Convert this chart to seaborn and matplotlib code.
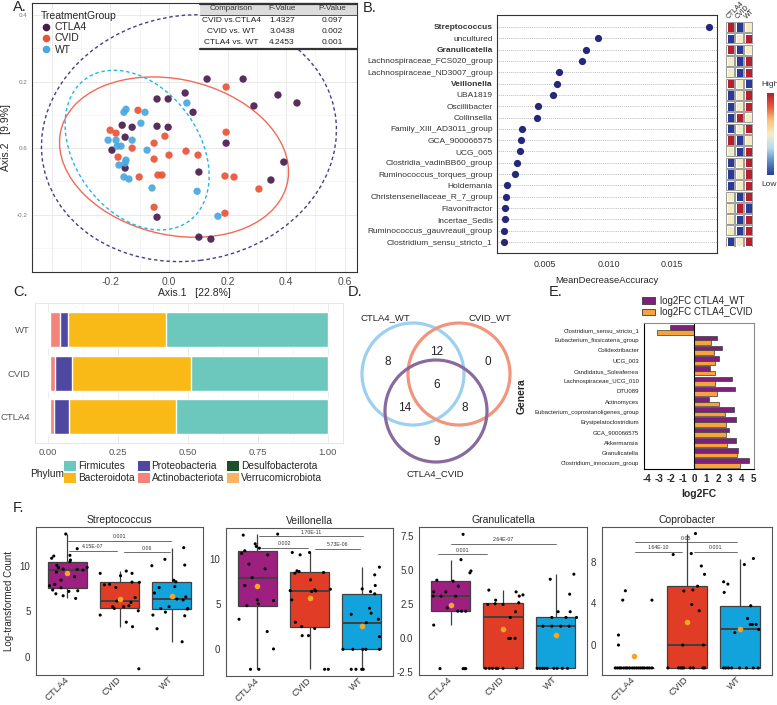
import numpy as np
import pandas as pd
import matplotlib
matplotlib.use("Agg")
import matplotlib.pyplot as plt
from matplotlib.patches import Ellipse, Circle, Rectangle, Patch
from matplotlib.lines import Line2D
from matplotlib.colors import LinearSegmentedColormap
import seaborn as sns

sns.set_style("white")
plt.rcParams["font.family"] = ["Liberation Sans", "DejaVu Sans"]

# ---------------- A. PCoA ----------------
groups = ["CTLA4", "CVID", "WT"]
group_colors = {"CTLA4": "#4A1C4E", "CVID": "#EA5338", "WT": "#4BA7DF"}

ctla4_ax1 = [0.130, 0.253, 0.055, -0.041, -0.003, 0.372, 0.437, 0.290, 0.082, -0.160, -0.126, -0.041,
             -0.003, -0.150, 0.195, -0.195, -0.150, 0.392, 0.102, 0.348, -0.041, 0.102, 0.143]
ctla4_ax2 = [0.208, 0.208, 0.166, 0.148, 0.148, 0.160, 0.136, 0.127, 0.108, 0.069, 0.063, 0.066,
             0.063, 0.033, 0.015, -0.006, -0.060, -0.042, -0.072, -0.096, -0.208, -0.268, -0.274]
cvid_ax1 = [0.195, -0.106, -0.201, -0.181, -0.014, 0.195, -0.051, -0.126, -0.174, 0.000, 0.058,
            0.099, -0.051, -0.038, -0.024, -0.102, 0.191, 0.222, 0.307, -0.051, 0.191]
cvid_ax2 = [0.184, 0.114, 0.054, 0.045, 0.036, 0.048, 0.015, 0.000, -0.027, -0.021, -0.009,
            -0.021, -0.033, -0.081, -0.081, -0.087, -0.084, -0.087, -0.123, -0.178, -0.196]
wt_ax1 = [-0.147, -0.154, -0.082, 0.061, -0.096, -0.208, -0.181, -0.126, -0.164, -0.177, -0.075,
          -0.147, -0.171, -0.150, -0.154, -0.137, -0.058, 0.096, 0.167]
wt_ax2 = [0.117, 0.108, 0.108, 0.136, 0.075, 0.024, 0.024, 0.024, 0.006, 0.006, -0.006,
          -0.036, -0.051, -0.045, -0.087, -0.093, -0.120, -0.130, -0.205]

# 95% ellipses (centre, width, height, angle) in axis units
ell_cx = [0.068, 0.017, -0.109]
ell_cy = [0.030, -0.027, -0.006]
ell_w = [1.01, 0.79, 0.56]
ell_h = [0.74, 0.47, 0.40]
ell_angle = [6, -10, -43]

perm_comparison = ["CVID vs.CTLA4", "CVID vs. WT", "CTLA4 vs. WT"]
perm_f = ["1.4327", "3.0438", "4.2453"]
perm_p = ["0.097", "0.002", "0.001"]

# ---------------- B. random forest ----------------
rf_genus = ["Streptococcus", "uncultured", "Granulicatella", "Lachnospiraceae_FCS020_group",
            "Lachnospiraceae_ND3007_group", "Veillonella", "UBA1819", "Oscillibacter", "Collinsella",
            "Family_XIII_AD3011_group", "GCA_900066575", "UCG_005", "Clostridia_vadinBB60_group",
            "Ruminococcus_torques_group", "Holdemania", "Christensenellaceae_R_7_group", "Flavonifractor",
            "Incertae_Sedis", "Ruminococcus_gauvreauii_group", "Clostridium_sensu_stricto_1"]
rf_mda = [0.0179, 0.00915, 0.0082, 0.00789, 0.0061, 0.00594, 0.00565, 0.00445, 0.0044, 0.00321,
          0.00313, 0.00303, 0.00277, 0.00266, 0.0020, 0.0019, 0.00187, 0.00183, 0.0018, 0.0018]
rf_bold = ["Streptococcus", "Granulicatella", "Veillonella"]
rf_ctla4 = [1, -1, 1, 0, 0, 1, -1, -1, -1, -1, 1, 0, -1, -1, -1, 0, 0, 0, 0, -1]
rf_cvid = [-1, 0, -1, -1, -1, 0, 0, 0, 1, 0, -1, -1, 0, 0, 0, -1, 1, -1, -1, 0]
rf_wt = [0, 1, 0, 1, 1, -1, 1, 1, 0, 1, 0, 1, 1, 1, 1, 1, -1, 1, 1, 1]

# ---------------- C. phylum composition ----------------
groups_c = ["WT", "CVID", "CTLA4"]
phyla = ["Firmicutes", "Bacteroidota", "Proteobacteria", "Actinobacteriota",
         "Desulfobacterota", "Verrucomicrobiota"]
phylum_colors = ["#6CC7BD", "#F9B917", "#4E48A0", "#F4837A", "#1E4D2B", "#FDB462"]
firmicutes = [0.577, 0.490, 0.543]
bacteroidota = [0.351, 0.425, 0.382]
proteobacteria = [0.028, 0.060, 0.052]
actinobacteriota = [0.038, 0.019, 0.017]
desulfobacterota = [0.002, 0.002, 0.002]
verrucomicrobiota = [0.004, 0.004, 0.004]

# ---------------- D. Venn ----------------
venn_sets = ["CTLA4_WT", "CVID_WT", "CTLA4_CVID"]
venn_counts = {"100": 8, "110": 12, "010": 0, "111": 6, "101": 14, "011": 8, "001": 9}

# ---------------- E. log2FC ----------------
fc_genus = ["Clostridium_sensu_stricto_1", "Eubacterium_fissicatena_group", "Colidextribacter", "UCG_003",
            "Candidatus_Soleaferrea", "Lachnospiraceae_UCG_010", "DTU089", "Actinomyces",
            "Eubacterium_coprostanoligenes_group", "Erysipelatoclostridium", "GCA_900066575",
            "Akkermansia", "Granulicatella", "Clostridium_innocuum_group"]
fc_ctla4_wt = [-2.03, 1.92, 2.33, 2.08, 1.37, 3.15, 3.42, 1.26, 3.32, 3.56, 2.90, 3.56, 3.67, 4.66]
fc_ctla4_cvid = [-3.12, 1.42, 1.70, 1.75, 1.75, 1.75, 1.89, 2.08, 2.58, 2.68, 2.68, 2.79, 3.64, 3.89]

# ---------------- F. boxplots ----------------
groups_f = ["CTLA4", "CVID", "WT"]
box_colors = {"CTLA4": "#9D1F80", "CVID": "#E13D26", "WT": "#13A3DC"}

strep_vals = {
    "CTLA4": [6.41, 6.7, 6.92, 7.18, 7.25, 7.33, 7.58, 7.8, 7.95, 8.42, 8.79, 9.3, 9.52, 9.6, 9.63, 9.78,
              9.82, 10.04, 10.44, 10.62, 10.82, 11.06, 11.14, 11.87, 13.48],
    "CVID": [-1.32, 3.3, 3.8, 4.58, 5.05, 5.31, 5.5, 5.5, 5.6, 5.98, 6.12, 6.5, 7.6, 7.9, 7.96, 8.17, 8.2,
             8.9, 9.16, 9.16, 9.41],
    "WT": [1.65, 3.08, 4.5, 4.58, 4.9, 5.24, 5.3, 5.3, 5.5, 6.24, 6.34, 6.57, 7.0, 7.6, 7.7, 8.24, 8.4,
           10.0, 10.07, 10.7, 11.98]}
strep_dx = {
    "CTLA4": [0.16, -0.08, -0.22, 0.03, 0.2, -0.28, -0.12, -0.34, -0.24, -0.12, 0.14, -0.21, 0.3, 0.19,
              -0.08, -0.17, 0.38, -0.2, 0.05, 0.06, -0.3, -0.26, 0.05, 0.19, -0.03],
    "CVID": [0.37, 0.25, 0.13, -0.37, 0.36, -0.1, -0.13, 0.08, 0.18, 0.22, -0.05, 0.3, -0.07, -0.29,
             -0.19, 0.38, 0.24, 0.02, -0.37, 0.24, 0.13],
    "WT": [0.2, -0.28, 0.25, -0.36, -0.12, 0.3, 0.31, -0.21, -0.05, 0.22, 0.1, 0.27, -0.33, -0.24, 0.06,
           0.08, 0.04, -0.38, 0.25, -0.13, 0.23]}
strep_brackets = [(0.01, 1.99, 12.71, "0.001"), (0.04, 0.95, 11.61, "4.15E-07"), (1.08, 1.96, 11.47, "0.06")]

veil_vals = {
    "CTLA4": [-2.21, -2.21, 0.04, 1.96, 3.32, 4.83, 5.02, 5.39, 5.46, 7.05, 7.93, 8.89, 9.41, 10.44, 10.6,
              10.89, 11.18, 11.37, 11.66, 12.62, 12.73],
    "CVID": [-2.21, -2.21, 1.51, 1.51, 2.3, 2.51, 2.99, 5.46, 6.38, 6.45, 6.49, 6.57, 6.64, 7.68, 8.41,
             8.49, 8.6, 8.67, 10.44, 10.7, 10.7],
    "WT": [-2.21, -2.21, -2.21, -2.21, 0.0, 0.0, 0.0, 0.0, 0.0, 1.4, 2.95, 3.32, 3.87, 3.99, 4.54, 6.13,
           6.38, 6.68, 7.05, 8.23, 9.08]}
veil_dx = {
    "CTLA4": [-0.13, 0.03, 0.31, 0.19, -0.35, -0.2, 0.02, 0.31, 0.0, -0.24, -0.1, 0.15, -0.16, 0.2, -0.3,
              -0.24, 0.04, -0.02, -0.04, -0.27, 0.39],
    "CVID": [0.29, 0.36, -0.14, -0.02, 0.1, -0.15, -0.27, -0.34, 0.04, 0.12, -0.37, 0.1, 0.4, 0.02, -0.28,
             0.27, -0.2, -0.24, -0.18, -0.33, 0.0],
    "WT": [-0.2, -0.11, 0.0, 0.03, -0.36, -0.17, 0.02, 0.08, 0.34, 0.34, 0.09, 0.32, -0.2, 0.18, 0.15, 0.25,
           0.17, 0.01, 0.26, 0.25, 0.34]}
veil_brackets = [(0.04, 2.02, 12.47, "1.70E-11"), (0.08, 0.97, 11.18, "0.002"), (1.1, 1.97, 11.07, "5.73E-06")]

granu_vals = {
    "CTLA4": [-2.22, -2.22, -2.22, -2.22, 0.98, 2.0, 2.0, 2.0, 2.25, 3.11, 3.11, 3.11, 3.42, 3.42, 3.84,
              4.21, 4.28, 4.82, 4.96, 5.79, 7.65],
    "CVID": [-2.2, -2.2, -2.2, -2.2, -2.2, -2.2, -2.2, 0.0, 0.0, 0.0, 1.54, 1.96, 2.49, 2.49, 2.55, 2.62,
             2.81, 3.11, 3.2, 3.42, 3.55],
    "WT": [-2.2, -2.2, -2.2, -2.2, -2.2, -2.2, -2.2, -2.2, -2.2, 0.9, 0.9, 0.9, 0.9, 1.54, 1.54, 1.54,
           1.96, 1.96, 3.25, 4.35, 4.72]}
granu_dx = {
    "CTLA4": [-0.2, 0.24, 0.27, 0.29, -0.32, 0.14, 0.21, 0.29, -0.06, -0.18, 0.1, -0.33, -0.32, -0.09,
              0.15, 0.05, -0.26, 0.37, 0.39, 0.2, 0.24],
    "CVID": [-0.33, -0.26, -0.2, -0.13, -0.1, 0.0, 0.26, 0.11, 0.14, 0.23, 0.14, 0.24, -0.29, 0.0, -0.15,
             0.3, -0.14, 0.31, 0.38, 0.25, -0.27],
    "WT": [-0.35, -0.3, -0.25, -0.21, -0.16, -0.03, 0.03, 0.13, 0.23, -0.24, -0.07, 0.1, 0.26, -0.07, 0.4,
           0.2, 0.05, 0.28, 0.27, -0.1, 0.35]}
granu_brackets = [(0.0, 2.0, 6.97, "2.64E-07"), (-0.24, 0.69, 6.19, "0.001")]

copro_vals = {
    "CTLA4": [-2.2, -2.2, -2.2, -2.2, -2.2, -2.2, -2.2, -2.2, -2.2, -2.2, -2.2, -2.2, -2.2, -2.2, -2.2,
              -2.2, -2.2, -2.2, 0.0, 0.96, 4.32, 4.32, 5.22],
    "CVID": [-2.2, -2.2, -2.2, -2.2, -2.2, -2.2, -2.2, -2.2, -2.2, 0.0, 0.0, 3.3, 3.9, 5.2, 5.3, 5.66, 6.8,
             7.6, 8.7, 8.8, 10.72],
    "WT": [-2.2, -2.2, -2.2, -2.2, -2.2, -2.2, -2.2, -2.2, 1.2, 1.5, 1.5, 1.98, 1.98, 1.98, 2.56, 3.78,
           5.06, 5.86, 6.08, 7.74, 8.32]}
copro_dx = {
    "CTLA4": [-0.35, -0.31, -0.27, -0.24, -0.19, -0.15, -0.12, -0.08, -0.03, 0.01, 0.05, 0.09, 0.13, 0.17,
              0.2, 0.25, 0.29, 0.34, -0.29, -0.29, -0.21, 0.34, -0.16],
    "CVID": [-0.36, -0.16, -0.12, -0.09, -0.06, 0.06, 0.12, 0.3, 0.33, -0.08, 0.31, 0.23, 0.09, -0.06, 0.11,
             0.2, 0.33, 0.27, -0.26, 0.08, 0.16],
    "WT": [-0.31, -0.27, -0.22, -0.16, -0.01, 0.12, 0.25, 0.34, -0.1, 0.35, -0.01, 0.19, 0.23, 0.3, 0.14,
           0.2, -0.3, -0.23, -0.31, 0.08, 0.25]}
copro_brackets = [(0.02, 1.95, 9.86, "0.05"), (0.02, 0.91, 8.96, "1.64E-10"), (1.13, 1.95, 8.96, "0.001")]

# ---------------- figure ----------------
fig = plt.figure(figsize=(7.77, 7.05), dpi=100)
TXT = "#4D4D4D"


def px_axes(x0, y0, x1, y1):
    return fig.add_axes([x0 / 777, 1 - y1 / 705, (x1 - x0) / 777, (y1 - y0) / 705])


def px_text(x, y, s, **kw):
    fig.text(x / 777, 1 - y / 705, s, **kw)


# panel letters
for lab, x, y in [("A.", 13, 7), ("B.", 363, 8), ("C.", 13, 292), ("D.", 348, 292), ("E.", 549, 292),
                  ("F.", 13, 508)]:
    px_text(x, y, lab, fontsize=10.5, va="center", ha="left")

# ---- A ----
axA = px_axes(32, 3, 357, 272)
pcoa = pd.concat([
    pd.DataFrame({"Axis.1": ctla4_ax1, "Axis.2": ctla4_ax2, "TreatmentGroup": "CTLA4"}),
    pd.DataFrame({"Axis.1": cvid_ax1, "Axis.2": cvid_ax2, "TreatmentGroup": "CVID"}),
    pd.DataFrame({"Axis.1": wt_ax1, "Axis.2": wt_ax2, "TreatmentGroup": "WT"}),
])
sns.scatterplot(data=pcoa, x="Axis.1", y="Axis.2", hue="TreatmentGroup", hue_order=groups,
                palette=group_colors, s=28, edgecolor="none", alpha=0.92, legend=False, ax=axA, zorder=3)
ell_colors = {"CTLA4": "#4E3A86", "CVID": "#F26A57", "WT": "#22B5EA"}
ell_styles = {"CTLA4": (0, (2.5, 2)), "CVID": "-", "WT": (0, (2.5, 2))}
for g, cx, cy, w, h, a in zip(groups, ell_cx, ell_cy, ell_w, ell_h, ell_angle):
    axA.add_patch(Ellipse((cx, cy), w, h, angle=a, fill=False, ec=ell_colors[g], lw=1.0,
                          ls=ell_styles[g], zorder=2))
axA.set_xlim(-0.468, 0.642)
axA.set_ylim(-0.373, 0.437)
axA.set_xticks([-0.4, -0.2, 0.0, 0.2, 0.4, 0.6])
axA.set_xticklabels(["", "-0.2", "0.0", "0.2", "0.4", "0.6"], fontsize=7.5, color=TXT)
axA.set_yticks([-0.2, 0.0, 0.2, 0.4])
axA.set_yticklabels(["-0.2", "0.6", "0.2", "0.4"], fontsize=4.5, color="#777777")
axA.set_xticks([-0.3, -0.1, 0.1, 0.3, 0.5], minor=True)
axA.set_yticks([-0.3, -0.1, 0.1, 0.3], minor=True)
axA.grid(which="major", color="#E6E6E6", lw=0.6)
axA.grid(which="minor", color="#F0F0F0", lw=0.4)
axA.tick_params(which="major", length=2, width=0.6, color="#333333", pad=1.5)
axA.tick_params(which="minor", length=0)
for s in axA.spines.values():
    s.set_color("#333333")
    s.set_linewidth(0.8)
axA.set_xlabel("Axis.1   [22.8%]", fontsize=7.5, labelpad=0.5)
axA.set_ylabel("Axis.2   [9.9%]", fontsize=7.5, labelpad=4)

leg_handles = [Line2D([], [], marker="o", ls="none", mfc=group_colors[g], mec="none", ms=5.5) for g in groups]
axA.legend(leg_handles, groups, title="TreatmentGroup", loc="upper left", bbox_to_anchor=(0.012, 0.99),
           frameon=False, fontsize=7.5, title_fontsize=7.5, handletextpad=0.3, labelspacing=0.12,
           borderpad=0, handlelength=1.0, alignment="left")

# permanova table
tx0, hb, tb = (200 - 32) / 325, (272 - 15) / 269, (272 - 49) / 269
axA.add_patch(Rectangle((tx0, tb), 1 - tx0, 1 - tb, transform=axA.transAxes, fc="white", ec="none", zorder=5))
axA.add_patch(Rectangle((tx0, hb), 1 - tx0, 1 - hb, transform=axA.transAxes, fc="#DCDCDC", ec="none", zorder=6))
for yy, lw in [(0.997, 1.6), (hb, 0.6), (tb, 1.6)]:
    axA.plot([tx0, 1], [yy, yy], transform=axA.transAxes, color="#333333", lw=lw, zorder=7, clip_on=False)
col_x = [(231 - 32) / 325, (282 - 32) / 325, (332 - 32) / 325]
for cx, head in zip(col_x, ["Comparison", "F-Value", "P-Value"]):
    axA.text(cx, (272 - 9) / 269, head, transform=axA.transAxes, ha="center", va="center", fontsize=5.8,
             color="#333333", zorder=8)
for i, (c, f, p) in enumerate(zip(perm_comparison, perm_f, perm_p)):
    yy = (272 - (21 + 10.5 * i)) / 269
    for cx, s in zip(col_x, [c, f, p]):
        axA.text(cx, yy, s, transform=axA.transAxes, ha="center", va="center", fontsize=6, color="#222222",
                 zorder=8)

# ---- B ----
axB = px_axes(497, 15, 717, 253)
sns.stripplot(x=rf_mda, y=rf_genus, order=rf_genus, orient="h", jitter=False, color="#26267A", size=5.2,
              ax=axB, zorder=3)
axB.set_xlim(0.00122, 0.01854)
axB.set_ylim(19.97, -1.06)
axB.set_xticks([0.005, 0.010, 0.015])
axB.set_xticklabels(["0.005", "0.010", "0.015"], fontsize=6.5, color="#333333")
axB.set_yticks(range(len(rf_genus)))
axB.set_yticklabels(rf_genus, fontsize=6, color="#333333")
for t in axB.get_yticklabels():
    if t.get_text() in rf_bold:
        t.set_fontweight("bold")
axB.set_axisbelow(True)
axB.yaxis.grid(True, linestyle=(0, (1, 1.3)), color="#AAAAAA", lw=0.6)
axB.tick_params(axis="y", length=0, pad=3)
axB.tick_params(axis="x", length=3, width=0.6, pad=2)
for s in axB.spines.values():
    s.set_color("#333333")
    s.set_linewidth(0.8)
axB.set_xlabel("MeanDecreaseAccuracy", fontsize=6.8, labelpad=5)
axB.set_ylabel("")

heat = pd.DataFrame({"CTLA4": rf_ctla4, "CVID": rf_cvid, "WT": rf_wt}, index=rf_genus)
heat_cmap = LinearSegmentedColormap.from_list(
    "rf", ["#2B3A96", "#5E8CC2", "#B9DCEB", "#F3EDC6", "#FDC274", "#E8593A", "#B3202E"])
hax = px_axes(725.5, 21.4, 752.5, 247.4)
cax = px_axes(767, 93, 774, 175)
sns.heatmap(heat, cmap=heat_cmap, vmin=-1, vmax=1, ax=hax, cbar_ax=cax, linewidths=1.0, linecolor="white",
            xticklabels=True, yticklabels=False, cbar_kws={"ticks": []})
for i in range(heat.shape[0]):
    for j in range(heat.shape[1]):
        hax.add_patch(Rectangle((j + 0.08, i + 0.06), 0.84, 0.88, fill=False, ec="#8C8C8C", lw=0.6))
hax.xaxis.tick_top()
hax.set_xticks([0.5, 1.5, 2.5])
hax.set_xticklabels(list(heat.columns), rotation=45, ha="left", va="bottom", rotation_mode="anchor",
                    fontsize=5)
hax.tick_params(length=0, pad=1)
hax.set_xlabel("")
hax.set_ylabel("")
for sp in cax.spines.values():
    sp.set_visible(False)
px_text(761, 84, "High", fontsize=6, va="center", color="#333333")
px_text(761, 184, "Low", fontsize=6, va="center", color="#333333")

# ---- C ----
axC = px_axes(35, 303, 343, 443)
stack = [verrucomicrobiota, desulfobacterota, actinobacteriota, proteobacteria, bacteroidota, firmicutes]
stack_colors = phylum_colors[::-1]
cum = np.cumsum(np.array(stack), axis=0)
for k in range(len(stack) - 1, -1, -1):
    sns.barplot(x=cum[k], y=groups_c, order=groups_c, orient="h", color=stack_colors[k], width=0.8,
                saturation=1, ax=axC, zorder=2)
axC.set_xlim(-0.046, 1.054)
axC.set_ylim(2.6, -0.6)
axC.set_xticks([0.0, 0.25, 0.5, 0.75, 1.0])
axC.set_xticklabels(["0.00", "0.25", "0.50", "0.75", "1.00"], fontsize=6.8, color="#555555")
axC.set_xticks([0.125, 0.375, 0.625, 0.875], minor=True)
axC.set_yticks([0, 1, 2])
axC.set_yticklabels(groups_c, fontsize=6.8, color="#555555")
axC.set_axisbelow(True)
axC.xaxis.grid(True, which="major", color="#E8E8E8", lw=0.6)
axC.xaxis.grid(True, which="minor", color="#F2F2F2", lw=0.4)
axC.tick_params(which="major", length=2, width=0.5, color="#888888", pad=1.5)
axC.tick_params(which="minor", length=0)
for s in axC.spines.values():
    s.set_color("#E3E3E3")
    s.set_linewidth(0.6)
axC.set_xlabel("")
axC.set_ylabel("")
c_handles = [Patch(fc=c, ec="none") for c in phylum_colors]
fig.legend(c_handles, phyla, ncol=3, loc="upper left", bbox_to_anchor=(64 / 777, 1 - 461 / 705),
           frameon=False, fontsize=7.3, handlelength=1.15, handleheight=1.15, handletextpad=0.2,
           columnspacing=0.35, labelspacing=0.12, borderpad=0, borderaxespad=0)
px_text(30, 474, "Phylum", fontsize=7.3, va="center", color="#222222")

# ---- D ----
axD = px_axes(340, 295, 530, 485)
axD.set_xlim(340, 530)
axD.set_ylim(485, 295)
axD.set_aspect("equal")
axD.axis("off")
venn_centres = [(413, 374), (459, 374), (436, 411)]
venn_colors = ["#9DD0EE", "#F2957C", "#8A6A9E"]
for (cx, cy), col in zip(venn_centres, venn_colors):
    axD.add_patch(Circle((cx, cy), 51, fill=False, ec=col, lw=2.3))
for name, (x, y) in zip(venn_sets, [(385, 318), (490, 318), (435, 474)]):
    axD.text(x, y, name, ha="center", va="center", fontsize=6.8, color="#222222")
for key, (x, y) in zip(["100", "110", "010", "111", "101", "011", "001"],
                       [(388, 362), (437, 352), (488, 362), (437, 385), (405, 408), (465, 408), (437, 442)]):
    axD.text(x, y, str(venn_counts[key]), ha="center", va="center", fontsize=8.5, color="#222222")

# ---- E ----
axE = px_axes(644, 323, 754, 469)
fc_df = pd.DataFrame({
    "Genera": fc_genus * 2,
    "Comparison": ["log2FC CTLA4_WT"] * len(fc_genus) + ["log2FC CTLA4_CVID"] * len(fc_genus),
    "log2FC": fc_ctla4_wt + fc_ctla4_cvid})
fc_palette = {"log2FC CTLA4_WT": "#7E1F7C", "log2FC CTLA4_CVID": "#F7A23B"}
sns.barplot(data=fc_df, y="Genera", x="log2FC", hue="Comparison", order=fc_genus,
            hue_order=list(fc_palette), palette=fc_palette, width=0.9, saturation=1, edgecolor="#3A3A3A",
            linewidth=0.5, legend=False, ax=axE)
axE.axvline(0, color="black", lw=0.8)
axE.set_xlim(-4.25, 5.05)
axE.set_ylim(13.59, -0.68)
axE.set_xticks([-4, -3, -2, -1, 0, 1, 2, 3, 4, 5])
axE.set_xticklabels(["-4", "-3", "-2", "-1", "0", "1", "2", "3", "4", "5"], fontsize=7, fontweight="bold")
axE.set_yticks(range(len(fc_genus)))
axE.set_yticklabels(fc_genus, fontsize=4.3, color="#222222")
axE.tick_params(length=2.5, width=0.6, pad=1)
for side, s in axE.spines.items():
    s.set_linewidth(0.8)
    s.set_color("black" if side in ("left", "bottom") else "#8A8A8A")
axE.set_xlabel("log2FC", fontsize=7.5, fontweight="bold", labelpad=4)
axE.set_ylabel("Genera", fontsize=7.5, fontweight="bold")
axE.yaxis.set_label_coords(-1.07, 0.5)
e_handles = [Patch(fc=c, ec="#3A3A3A", lw=0.6) for c in fc_palette.values()]
fig.legend(e_handles, list(fc_palette), loc="upper left", bbox_to_anchor=(642 / 777, 1 - 296 / 705),
           frameon=False, fontsize=7, handlelength=1.3, handleheight=0.65, handletextpad=0.5,
           labelspacing=0.15, borderpad=0, borderaxespad=0)

# ---- F ----
panels = [
    ("Streptococcus", strep_vals, strep_dx, strep_brackets, (-2.0, 14.25), [0, 5, 10], ["0", "5", "10"]),
    ("Veillonella", veil_vals, veil_dx, veil_brackets, (-2.95, 13.44), [0, 5, 10], ["0", "5", "10"]),
    ("Granulicatella", granu_vals, granu_dx, granu_brackets, (-2.69, 8.19), [-2.5, 0, 2.5, 5, 7.5],
     ["-2.5", "0.0", "2.5", "5.0", "7.5"]),
    ("Coprobacter", copro_vals, copro_dx, copro_brackets, (-2.88, 11.35), [0, 4, 8], ["0", "4", "8"]),
]
f_boxes = [(36, 527, 203, 675), (226, 527.7, 393, 676), (419, 527, 587, 675), (602, 527, 772, 675)]

for k, ((title, vals, dxs, brackets, ylim, yt, ytl), box) in enumerate(zip(panels, f_boxes)):
    ax = px_axes(*box)
    rows = []
    for gi, g in enumerate(groups_f):
        for v, d in zip(vals[g], dxs[g]):
            rows.append((g, gi, v, gi + d))
    df = pd.DataFrame(rows, columns=["Group", "code", "Count", "xpos"])
    sns.boxplot(data=df, x="code", y="Count", hue="Group", hue_order=groups_f, palette=box_colors,
                width=0.75, showfliers=False, linecolor="#404040", linewidth=0.9, saturation=1,
                legend=False, ax=ax, showcaps=False, medianprops={"linewidth": 1.4})
    sns.scatterplot(data=df, x="xpos", y="Count", color="black", s=5, edgecolor="none", ax=ax, zorder=3)
    sns.pointplot(data=df, x="code", y="Count", estimator="mean", errorbar=None, linestyle="none",
                  color="#F5A623", markersize=2.0, ax=ax, zorder=4)
    for x1, x2, yb, lab in brackets:
        ax.plot([x1, x2], [yb, yb], color="#555555", lw=0.6, zorder=5)
        ax.annotate(lab, ((x1 + x2) / 2, yb), xytext=(0, 1.2), textcoords="offset points", ha="center",
                    va="bottom", fontsize=3.8, color="#333333")
    ax.set_xlim(-0.6, 2.6)
    ax.set_ylim(*ylim)
    ax.set_xticks([0, 1, 2])
    ax.set_xticklabels(groups_f, rotation=45, ha="right", va="center", rotation_mode="anchor",
                       fontsize=6.8, color="#333333")
    ax.set_yticks(yt)
    ax.set_yticklabels(ytl, fontsize=7, color="#333333")
    ax.tick_params(axis="y", length=2.5, width=0.6, color="#444444", pad=1.5)
    ax.tick_params(axis="x", length=2, width=0.6, color="#444444", pad=0.3)
    for s in ax.spines.values():
        s.set_color("#555555")
        s.set_linewidth(0.8)
    ax.set_title(title, fontsize=7.5, pad=3)
    ax.set_xlabel("")
    ax.set_ylabel("Log-transformed Count" if k == 0 else "", fontsize=7)

fig.savefig("out.png", dpi=100)
